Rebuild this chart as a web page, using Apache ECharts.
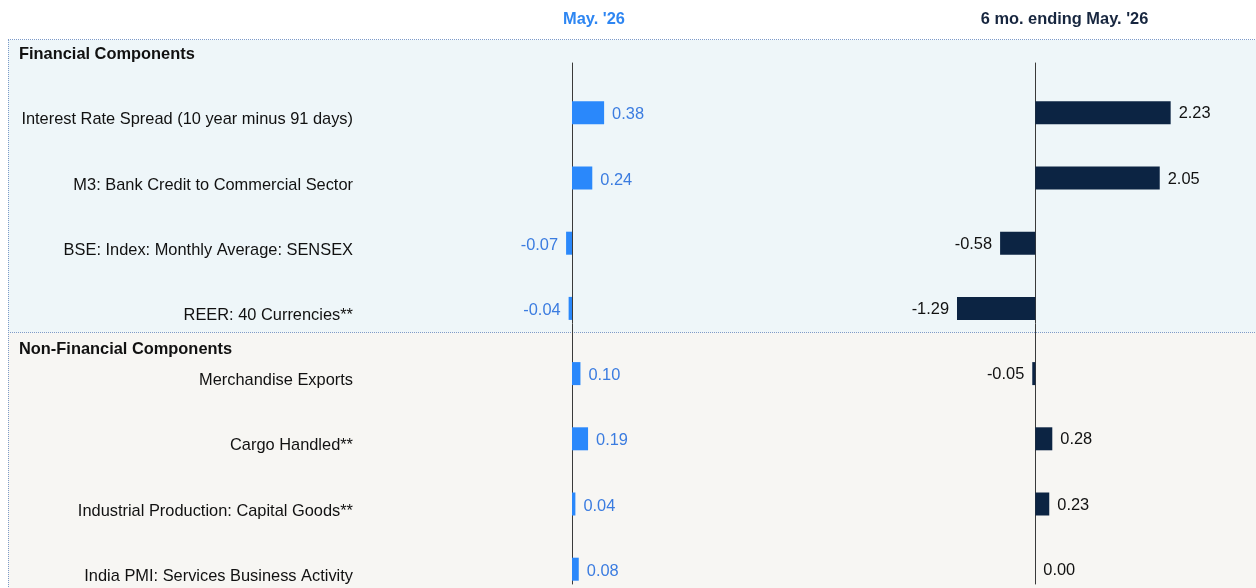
<!DOCTYPE html>
<html>
<head>
<meta charset="utf-8">
<script src="https://cdn.jsdelivr.net/npm/echarts@6/dist/echarts.min.js"></script>
<style>
  html, body { margin: 0; padding: 0; background: #ffffff; }
  #chart { width: 1256px; height: 588px; }
</style>
</head>
<body>
<div id="chart"></div>
<script>
// ---- data ----
const categories = [
  'Interest Rate Spread (10 year minus 91 days)',
  'M3: Bank Credit to Commercial Sector',
  'BSE: Index: Monthly Average: SENSEX',
  'REER: 40 Currencies**',
  'Merchandise Exports',
  'Cargo Handled**',
  'Industrial Production: Capital Goods**',
  'India PMI: Services Business Activity'
];
const mayValues = [0.38, 0.24, -0.07, -0.04, 0.10, 0.19, 0.04, 0.08];
const sixMonthValues = [2.23, 2.05, -0.58, -1.29, -0.05, 0.28, 0.23, 0.00];
const panelTitles = ["May. '26", "6 mo. ending May. '26"];
const sectionTitles = ['Financial Components', 'Non-Financial Components'];

// ---- styling / layout ----
const FONT = "'Liberation Sans', Arial, sans-serif";
const FS = 16.4;
const BLUE_BAR = '#2a88fb';
const BLUE_TXT = '#3b7ce0';
const NAVY_BAR = '#0c2443';
const NAVY_TXT = '#17263f';

function items(vals) {
  return vals.map(v => ({
    value: v,
    label: { position: v < 0 ? 'left' : 'right' }
  }));
}

const chart = echarts.init(document.getElementById('chart'), null, { renderer: 'canvas' });

const gridTop = 80.2, gridHeight = 521.6;
const gridBase = { outerBoundsMode: 'none', containLabel: false };

const option = {
  animation: false,
  grid: [
    Object.assign({ left: 487.5, top: gridTop, width: 211.25, height: gridHeight }, gridBase),
    Object.assign({ left: 913.9, top: gridTop, width: 303.5, height: gridHeight }, gridBase),
    Object.assign({ left: 572.2, top: 63, width: 10, height: 521 }, gridBase),
    Object.assign({ left: 1035.3, top: 63, width: 10, height: 521 }, gridBase)
  ],
  xAxis: [
    { gridIndex: 0, type: 'value', min: -1, max: 1.5, show: false },
    { gridIndex: 1, type: 'value', min: -2, max: 3, show: false },
    { gridIndex: 2, type: 'value', min: 0, max: 1, show: false },
    { gridIndex: 3, type: 'value', min: 0, max: 1, show: false }
  ],
  yAxis: [
    {
      gridIndex: 0, type: 'category', data: categories, inverse: true,
      position: 'left',
      axisLine: { show: false, onZero: false },
      axisTick: { show: false },
      splitLine: { show: false },
      axisLabel: {
        margin: 134.5, fontFamily: FONT, fontSize: FS, color: '#111111',
        verticalAlign: 'top', lineHeight: 14
      }
    },
    {
      gridIndex: 1, type: 'category', data: categories, inverse: true,
      axisLine: { show: false, onZero: false },
      axisTick: { show: false },
      axisLabel: { show: false },
      splitLine: { show: false }
    },
    {
      gridIndex: 2, type: 'value', min: 0, max: 1, position: 'left',
      axisLine: { show: true, onZero: false, lineStyle: { color: '#3a3a3a', width: 1 } },
      axisTick: { show: false }, axisLabel: { show: false }, splitLine: { show: false }
    },
    {
      gridIndex: 3, type: 'value', min: 0, max: 1, position: 'left',
      axisLine: { show: true, onZero: false, lineStyle: { color: '#3a3a3a', width: 1 } },
      axisTick: { show: false }, axisLabel: { show: false }, splitLine: { show: false }
    }
  ],
  series: [
    {
      name: panelTitles[0], type: 'bar', xAxisIndex: 0, yAxisIndex: 0,
      data: items(mayValues), barWidth: 23,
      itemStyle: { color: BLUE_BAR },
      label: {
        show: true, distance: 8, offset: [0, 2], fontFamily: FONT, fontSize: FS, color: BLUE_TXT,
        formatter: p => p.value.toFixed(2)
      },
      z: 3
    },
    {
      name: panelTitles[1], type: 'bar', xAxisIndex: 1, yAxisIndex: 1,
      data: items(sixMonthValues), barWidth: 23,
      itemStyle: { color: NAVY_BAR },
      label: {
        show: true, distance: 8, offset: [0, 1], fontFamily: FONT, fontSize: FS, color: '#111111',
        formatter: p => p.value.toFixed(2)
      },
      z: 3
    }
  ],
  graphic: [
    { type: 'rect', z: -10, silent: true, shape: { x: 8, y: 40, width: 1248, height: 292 }, style: { fill: '#eef6f9' } },
    { type: 'rect', z: -10, silent: true, shape: { x: 8, y: 332, width: 1248, height: 256 }, style: { fill: '#f7f6f3' } },
    { type: 'line', z: -5, silent: true, shape: { x1: 8, y1: 39.5, x2: 1256, y2: 39.5 }, style: { stroke: '#7d9bc9', lineWidth: 1, lineDash: [1, 1] } },
    { type: 'line', z: -5, silent: true, shape: { x1: 8, y1: 332.5, x2: 1256, y2: 332.5 }, style: { stroke: '#7d9bc9', lineWidth: 1, lineDash: [1, 1] } },
    { type: 'line', z: -5, silent: true, shape: { x1: 8.5, y1: 40, x2: 8.5, y2: 588 }, style: { stroke: '#7d9bc9', lineWidth: 1, lineDash: [1, 1] } },
    { type: 'text', z: 10, x: 19, y: 54, style: { text: sectionTitles[0], font: 'bold ' + FS + 'px ' + FONT, fill: '#111111', verticalAlign: 'middle' } },
    { type: 'text', z: 10, x: 19, y: 349, style: { text: sectionTitles[1], font: 'bold ' + FS + 'px ' + FONT, fill: '#111111', verticalAlign: 'middle' } },
    { type: 'text', z: 10, x: 594, y: 19, style: { text: panelTitles[0], font: 'bold ' + FS + 'px ' + FONT, fill: '#2e86f2', align: 'center', verticalAlign: 'middle' } },
    { type: 'text', z: 10, x: 1064.5, y: 19, style: { text: panelTitles[1], font: 'bold ' + FS + 'px ' + FONT, fill: NAVY_TXT, align: 'center', verticalAlign: 'middle' } }
  ]
};

chart.setOption(option);
</script>
</body>
</html>
